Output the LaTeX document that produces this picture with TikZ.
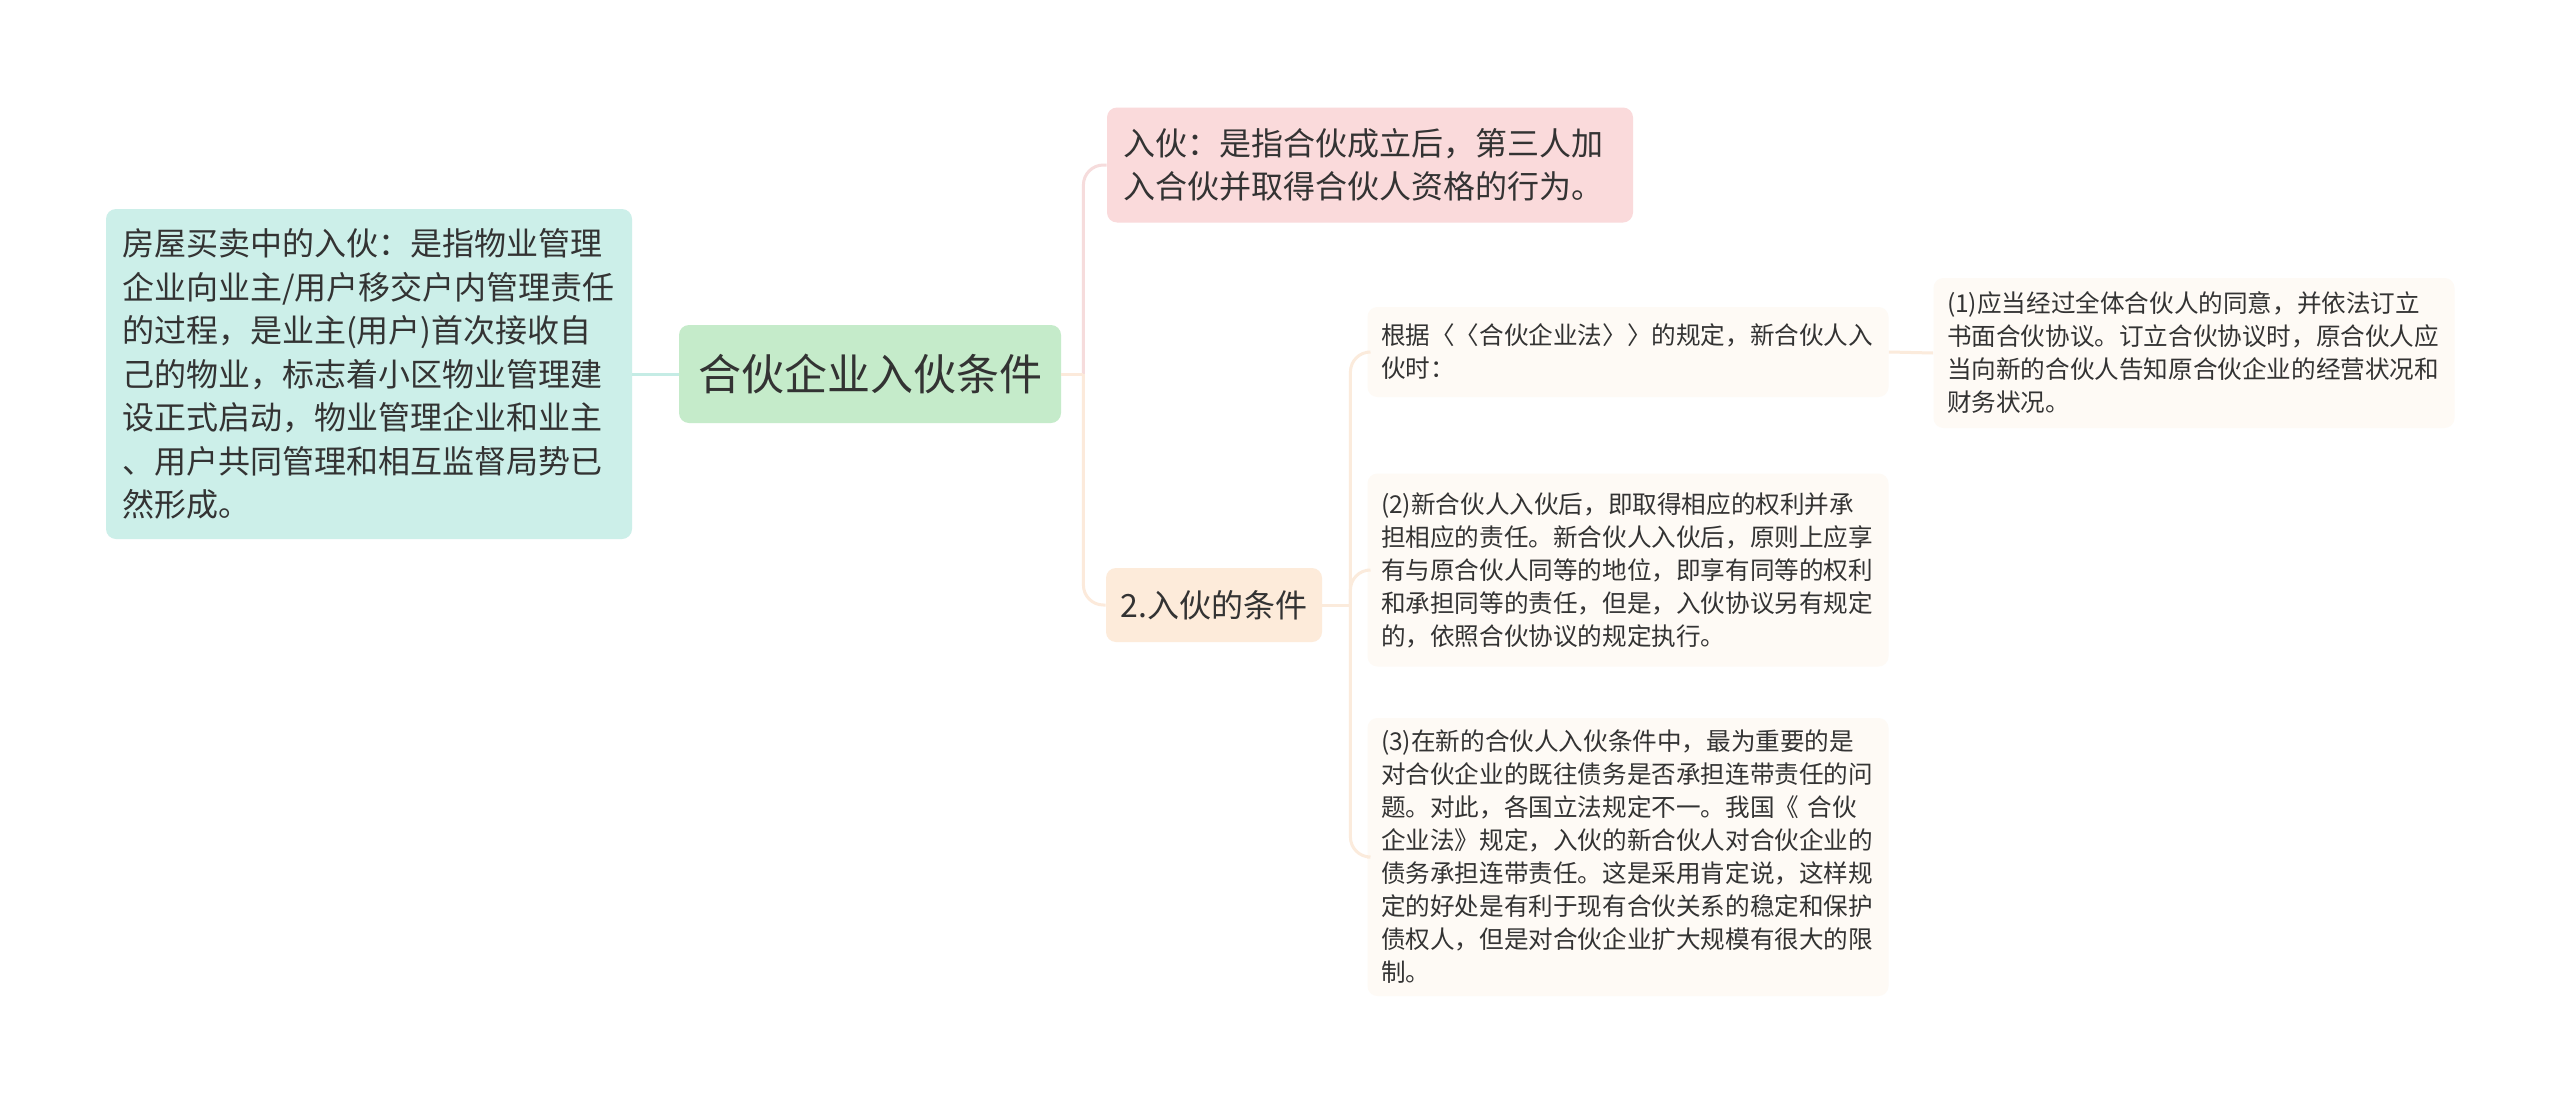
\documentclass[tikz,border=0pt]{standalone}
\usepackage{fontspec}
\setmainfont{Noto Sans CJK SC}
\usetikzlibrary{calc}
\definecolor{txt}{HTML}{333333}
\definecolor{tealfill}{HTML}{CCEFE9}
\definecolor{greenfill}{HTML}{C5EBCA}
\definecolor{pinkfill}{HTML}{FADADB}
\definecolor{peachfill}{HTML}{FDEBDA}
\definecolor{leaffill}{HTML}{FEFAF5}
\definecolor{tealline}{HTML}{C5ECE5}
\definecolor{pinkline}{HTML}{F6DCDC}
\definecolor{peachline}{HTML}{FCEADB}
\definecolor{leafline}{HTML}{FBEBDC}
\begin{document}
\begin{tikzpicture}[x=0.5pt,y=-0.5pt,
  box/.style={rounded corners=5pt, inner ysep=0pt, text=txt, anchor=center},
  big/.style={box, font=\fontsize{16pt}{21.75pt}\selectfont, align=left, text width=247pt, inner xsep=8pt},
  leaf/.style={box, fill=leaffill, font=\fontsize{12.3pt}{16.5pt}\selectfont, align=left, text width=247pt, inner xsep=6.75pt},
  conn/.style={line width=1.5pt, rounded corners=10pt}
]
\fill[white] (0,0) rectangle (2560,1103);
\useasboundingbox (0,0) rectangle (2560,1103);

\node[big, fill=tealfill, minimum height=165pt] (L) at (369,374)
  {房屋买卖中的入伙：是指物业管理\\企业向业主/用户移交户内管理责任\\的过程，是业主(用户)首次接收自\\己的物业，标志着小区物业管理建\\设正式启动，物业管理企业和业主\\、用户共同管理和相互监督局势已\\然形成。};
\node[box, fill=greenfill, minimum width=191pt, minimum height=49pt, font=\fontsize{21.5pt}{26pt}\selectfont] (R) at (870,374) {合伙企业入伙条件};
\node[big, fill=pinkfill, minimum height=57.5pt] (P) at (1370,165)
  {入伙：是指合伙成立后，第三人加\\入合伙并取得合伙人资格的行为。};
\node[box, fill=peachfill, minimum width=108pt, minimum height=37pt, font=\fontsize{16pt}{20pt}\selectfont] (C) at (1214,605) {2.入伙的条件};
\node[leaf, minimum height=45pt] (G) at (1628,352)
  {根据〈〈合伙企业法〉〉的规定，新合伙人入\\伙时：};
\node[leaf, minimum height=96.5pt] (D2) at (1628,570)
  {(2)新合伙人入伙后，即取得相应的权利并承\\担相应的责任。新合伙人入伙后，原则上应享\\有与原合伙人同等的地位，即享有同等的权利\\和承担同等的责任，但是，入伙协议另有规定\\的，依照合伙协议的规定执行。};
\node[leaf, minimum height=139pt] (D3) at (1628,857)
  {(3)在新的合伙人入伙条件中，最为重要的是\\对合伙企业的既往债务是否承担连带责任的问\\题。对此，各国立法规定不一。我国《 合伙\\企业法》规定，入伙的新合伙人对合伙企业的\\债务承担连带责任。这是采用肯定说，这样规\\定的好处是有利于现有合伙关系的稳定和保护\\债权人，但是对合伙企业扩大规模有很大的限\\制。};
\node[leaf, minimum height=75pt] (D1) at (2194,353)
  {(1)应当经过全体合伙人的同意，并依法订立\\书面合伙协议。订立合伙协议时，原合伙人应\\当向新的合伙人告知原合伙企业的经营状况和\\财务状况。};

\coordinate (t1) at ($(R.east)+(22,0)$);
\coordinate (t2) at ($(C.east)+(28,0)$);

\draw[conn, tealline] (L.east) -- (R.west);
\draw[conn, pinkline] (t1) |- (P.west);
\draw[conn, peachline] (t1) |- (C.west);
\draw[line width=1.5pt, peachline] (R.east) -- (t1);
\draw[conn, leafline] (t2) |- (G.west);
\draw[conn, leafline] (t2) |- (D2.west);
\draw[conn, leafline] (t2) |- (D3.west);
\draw[line width=1.5pt, leafline] (C.east) -- (t2);
\draw[conn, leafline] (G.east) -- (D1.west);
\end{tikzpicture}
\end{document}
